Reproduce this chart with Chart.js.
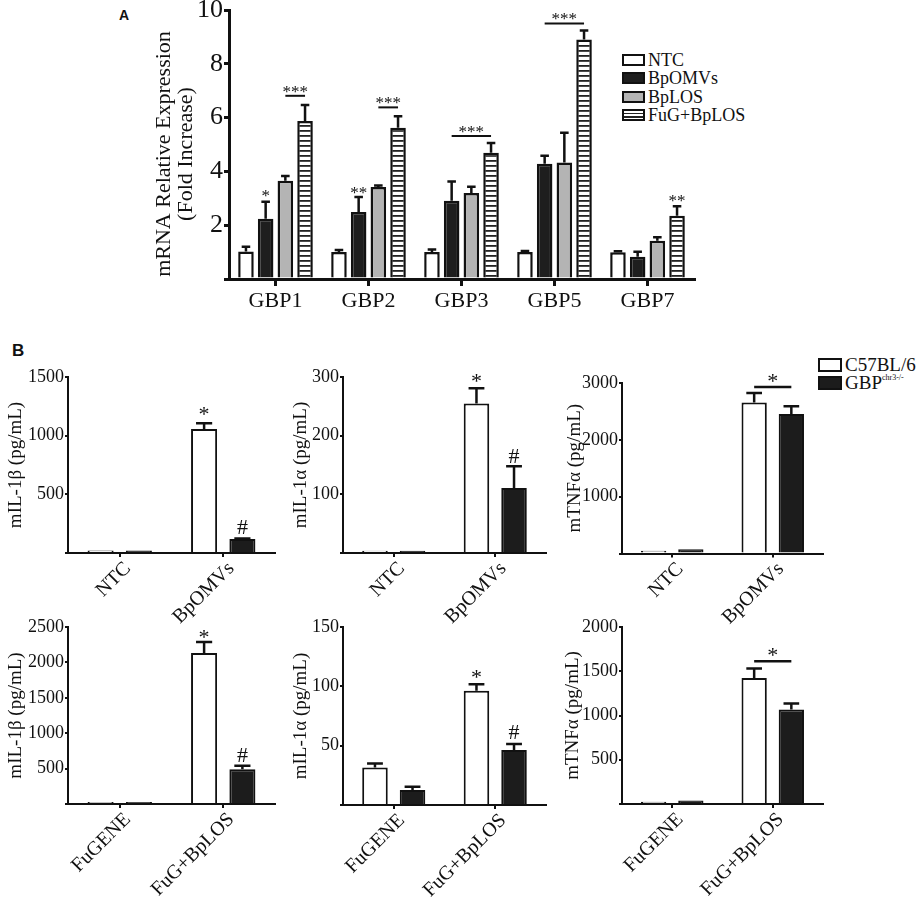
<!DOCTYPE html>
<html>
<head>
<meta charset="utf-8">
<script src="https://cdn.jsdelivr.net/npm/chart.js@4.4.1/dist/chart.umd.min.js"></script>
<style>
  html, body { margin: 0; padding: 0; background: #fff; }
  #fig { position: relative; width: 920px; height: 897px; overflow: hidden;
         font-family: "Liberation Serif", "Times New Roman", serif; color: #111; }
  #fig canvas { position: absolute; }
  .panel { position: absolute; font-family: "Liberation Sans", Arial, sans-serif; font-weight: bold; line-height: 1; }
  .legend { position: absolute; }
  .legend .row { position: absolute; left: 0; white-space: nowrap; }
  .sw { position: absolute; left: 0; top: 0; box-sizing: border-box; border: 2px solid #111; }
  .lt { position: absolute; line-height: 1; white-space: nowrap; }
  .lt sup { font-size: 8px; vertical-align: 9px; }
</style>
</head>
<body>
<div id="fig">
  <div class="panel" style="left:119px; top:8px; font-size:14px;">A</div>
  <div class="panel" style="left:12px; top:342px; font-size:17px;">B</div>

  <div class="legend" style="left:622px; top:54px; font-size:18px;">
    <div class="row" style="top:0px"><div class="sw" style="width:23px;height:12px;background:#fff"></div><div class="lt" style="left:26px;top:-3px">NTC</div></div>
    <div class="row" style="top:18.3px"><div class="sw" style="width:23px;height:12px;background:#1e1e1e"></div><div class="lt" style="left:26px;top:-3px">BpOMVs</div></div>
    <div class="row" style="top:36.6px"><div class="sw" style="width:23px;height:12px;background:#b4b4b4"></div><div class="lt" style="left:26px;top:-3px">BpLOS</div></div>
    <div class="row" style="top:54.9px"><div class="sw" style="width:23px;height:12px;background:repeating-linear-gradient(to bottom,#fff 0 2px,#222 2px 3.5px)"></div><div class="lt" style="left:26px;top:-3px">FuG+BpLOS</div></div>
  </div>

  <div class="legend" style="left:818px; top:358px; font-size:19px;">
    <div class="row" style="top:0px"><div class="sw" style="width:24px;height:14px;background:#fff"></div><div class="lt" style="left:27px;top:-3px">C57BL/6</div></div>
    <div class="row" style="top:18px"><div class="sw" style="width:24px;height:14px;background:#1c1c1c"></div><div class="lt" style="left:27px;top:-3px">GBP<sup>chr3-/-</sup></div></div>
  </div>
</div>

<script>
// ---------- Panel A: GBP mRNA fold increase ----------
const genes      = ['GBP1', 'GBP2', 'GBP3', 'GBP5', 'GBP7'];
const ntcMean    = [1.02, 1.00, 1.00, 1.00, 0.99];
const ntcSem     = [0.18, 0.08, 0.10, 0.04, 0.04];
const omvMean    = [2.24, 2.49, 2.91, 4.28, 0.83];
const omvSem     = [0.63, 0.56, 0.71, 0.30, 0.18];
const losMean    = [3.65, 3.42, 3.20, 4.33, 1.42];
const losSem     = [0.18, 0.06, 0.23, 1.11, 0.13];
const fugMean    = [5.87, 5.62, 4.69, 8.90, 2.35];
const fugSem     = [0.60, 0.43, 0.37, 0.34, 0.35];

// ---------- Panel B: cytokines (pg/mL) ----------
const groupsOmv  = ['NTC', 'BpOMVs'];
const groupsLos  = ['FuGENE', 'FuG+BpLOS'];

const il1bOmvWt  = [22, 1057];   const il1bOmvWtErr = [0, 48];
const il1bOmvKo  = [22, 119];    const il1bOmvKoErr = [0, 4];
const il1aOmvWt  = [4, 255];     const il1aOmvWtErr = [0, 26];
const il1aOmvKo  = [4, 111];     const il1aOmvKoErr = [0, 37];
const tnfOmvWt   = [50, 2655];   const tnfOmvWtErr  = [0, 170];
const tnfOmvKo   = [75, 2456];   const tnfOmvKoErr  = [0, 135];

const il1bLosWt  = [28, 2134];   const il1bLosWtErr = [0, 155];
const il1bLosKo  = [28, 492];    const il1bLosKoErr = [0, 47];
const il1aLosWt  = [31.5, 96.3]; const il1aLosWtErr = [3.5, 5.4];
const il1aLosKo  = [12.6, 46.3]; const il1aLosKoErr = [2.8, 5.1];
const tnfLosWt   = [25, 1425];   const tnfLosWtErr  = [0, 105];
const tnfLosKo   = [40, 1069];   const tnfLosKoErr  = [0, 67];

const SERIF = '"Liberation Serif", "Times New Roman", serif';
const INK = '#111';

// error bars, significance marks and (optionally) a free-placed axis title
const errSig = {
  id: 'errSig',
  afterDatasetsDraw(chart, args, o) {
    const ctx = chart.ctx, y = chart.scales.y;
    const starShift = t => t.indexOf('*') >= 0 ? o.size * 0.15 : 0;
    ctx.save();
    ctx.strokeStyle = INK;
    ctx.fillStyle = INK;
    chart.data.datasets.forEach((ds, di) => {
      if (!ds.err) return;
      chart.getDatasetMeta(di).data.forEach((bar, i) => {
        const e = ds.err[i];
        if (!e) return;
        const top = y.getPixelForValue(ds.data[i] + e);
        const half = bar.width * o.cap / 2;
        ctx.lineWidth = o.errWidth;
        ctx.beginPath();
        ctx.moveTo(bar.x, bar.y);
        ctx.lineTo(bar.x, top);
        ctx.moveTo(bar.x - half, top);
        ctx.lineTo(bar.x + half, top);
        ctx.stroke();
      });
    });
    ctx.font = o.size + 'px ' + SERIF;
    ctx.textAlign = 'center';
    ctx.textBaseline = 'middle';
    (o.marks || []).forEach(m => {
      const bar = chart.getDatasetMeta(m.ds).data[m.i];
      ctx.fillText(m.t, bar.x, y.getPixelForValue(m.y) + starShift(m.t));
    });
    (o.lines || []).forEach(l => {
      const a = chart.getDatasetMeta(l.a).data[l.i];
      const b = chart.getDatasetMeta(l.b).data[l.i];
      const py = y.getPixelForValue(l.y);
      ctx.lineWidth = o.lineWidth;
      ctx.beginPath();
      ctx.moveTo(a.x, py);
      ctx.lineTo(b.x, py);
      ctx.stroke();
      ctx.fillText(l.t, (a.x + b.x) / 2, py - o.gap + starShift(l.t));
    });
    if (o.title) {
      const t = o.title;
      ctx.font = t.size + 'px ' + SERIF;
      t.lines.forEach((line, k) => {
        ctx.save();
        ctx.translate(t.x + k * t.step, t.y);
        ctx.rotate(-Math.PI / 2);
        ctx.fillText(line, 0, 0);
        ctx.restore();
      });
    }
    ctx.restore();
  }
};

function stripes() {
  const c = document.createElement('canvas');
  c.width = 4; c.height = 5;
  const g = c.getContext('2d');
  g.fillStyle = '#fff'; g.fillRect(0, 0, 4, 5);
  g.fillStyle = '#222'; g.fillRect(0, 0, 4, 1.8);
  return g.createPattern(c, 'repeat');
}

// box = canvas rect on the page, area = wanted chart area on the page
function makeChart(o) {
  const cv = document.createElement('canvas');
  cv.width = o.box.w; cv.height = o.box.h;
  cv.style.left = o.box.left + 'px';
  cv.style.top = o.box.top + 'px';
  document.getElementById('fig').appendChild(cv);

  const yW = o.area.left - o.box.left;
  const xH = o.box.top + o.box.h - o.area.bottom;
  const padTop = o.area.top - o.box.top;
  const padRight = o.box.left + o.box.w - o.area.right;
  const titleLH = o.titleSize * o.titleLine;
  const titlePad = o.titleX - o.box.left - titleLH / 2;

  const sig = Object.assign({}, o.sig);
  if (o.titleAt) {
    sig.title = { lines: o.title, size: o.titleSize, step: titleLH,
                  x: o.titleAt.x - o.box.left, y: o.titleAt.y - o.box.top };
  }

  return new Chart(cv, {
    type: 'bar',
    data: {
      labels: o.labels,
      datasets: o.series.map(s => ({
        label: s.label,
        data: s.data,
        err: s.err,
        backgroundColor: s.fill,
        borderColor: INK,
        borderWidth: o.barBorder,
        categoryPercentage: o.catPct,
        barPercentage: o.barPct,
      })),
    },
    options: {
      responsive: false,
      animation: false,
      devicePixelRatio: 1,
      layout: { padding: { top: padTop, right: padRight, bottom: 0, left: 0 } },
      plugins: {
        legend: { display: false },
        tooltip: { enabled: false },
        errSig: sig,
      },
      scales: {
        x: {
          grid: { offset: false, drawOnChartArea: false, drawTicks: true,
                  tickLength: o.xTick, lineWidth: o.tickWidth, color: INK },
          border: { color: INK, width: o.axisWidth },
          ticks: { color: INK, font: { family: SERIF, size: o.xFont }, padding: o.xPad,
                   labelOffset: o.xShift || 0,
                   minRotation: o.rot, maxRotation: o.rot, autoSkip: false },
          afterFit: s => { s.height = xH; s.paddingLeft = 0; s.paddingRight = 0; },
        },
        y: {
          min: 0, max: o.yMax,
          grid: { drawOnChartArea: false, drawTicks: true,
                  tickLength: o.yTick, lineWidth: o.tickWidth, color: INK },
          border: { color: INK, width: o.axisWidth },
          ticks: { stepSize: o.step, color: INK, padding: o.yPad,
                   font: { family: SERIF, size: o.yFont },
                   callback: v => (v === 0 ? '' : v) },
          title: { display: !o.titleAt, text: o.title, color: INK,
                   font: { family: SERIF, size: o.titleSize, lineHeight: o.titleLine },
                   padding: { top: titlePad, bottom: 0 } },
          afterFit: s => { s.width = yW; s.paddingTop = 0; s.paddingBottom = 0; },
        },
      },
    },
    plugins: [errSig],
  });
}

// ---------- Panel A ----------
makeChart({
  box: { left: 135, top: 0, w: 575, h: 330 },
  area: { left: 229, top: 10, right: 694, bottom: 279 },
  labels: genes,
  series: [
    { label: 'NTC',       data: ntcMean, err: ntcSem, fill: '#fff' },
    { label: 'BpOMVs',    data: omvMean, err: omvSem, fill: '#1e1e1e' },
    { label: 'BpLOS',     data: losMean, err: losSem, fill: '#b4b4b4' },
    { label: 'FuG+BpLOS', data: fugMean, err: fugSem, fill: stripes() },
  ],
  yMax: 10, step: 2,
  title: ['mRNA Relative Expression', '(Fold Increase)'],
  titleAt: { x: 164, y: 154 },
  titleX: 164, titleSize: 22, titleLine: 1.0,
  catPct: 0.847, barPct: 0.79, barBorder: 2.5,
  axisWidth: 3, tickWidth: 3, xTick: 7, yTick: 5, xPad: 2, yPad: 1,
  xFont: 22, yFont: 26, rot: 0,
  sig: {
    size: 17, cap: 0.55, errWidth: 2.5, lineWidth: 2, gap: 6,
    marks: [
      { ds: 1, i: 0, t: '*',  y: 3.16 },
      { ds: 1, i: 1, t: '**', y: 3.28 },
      { ds: 3, i: 4, t: '**', y: 2.97 },
    ],
    lines: [
      { i: 0, a: 2, b: 3, y: 6.81, t: '***' },
      { i: 1, a: 2, b: 3, y: 6.38, t: '***' },
      { i: 2, a: 1, b: 3, y: 5.32, t: '***' },
      { i: 3, a: 1, b: 3, y: 9.50, t: '***' },
    ],
  },
});

// ---------- Panel B ----------
function panelB(box, area, labels, wt, wtErr, ko, koErr, yMax, step, title, titleX, sig) {
  return makeChart({
    box, area, labels,
    series: [
      { label: 'C57BL/6',    data: wt, err: wtErr, fill: '#fff' },
      { label: 'GBPchr3-/-', data: ko, err: koErr, fill: '#1c1c1c' },
    ],
    yMax, step, title, titleX, titleSize: 19, titleLine: 1.2,
    catPct: 0.74, barPct: 0.68, barBorder: 2,
    axisWidth: 2, tickWidth: 2, xTick: 4, yTick: 3, xPad: 0, yPad: 1,
    xFont: 20, yFont: 18, rot: 45, xShift: 8,
    sig: Object.assign({ size: 22, cap: 0.62, errWidth: 2.5, lineWidth: 2.5, gap: 8.4 }, sig),
  });
}

panelB({ left: 0, top: 340, w: 290, h: 300 }, { left: 68, top: 377, right: 275, bottom: 553 },
  groupsOmv, il1bOmvWt, il1bOmvWtErr, il1bOmvKo, il1bOmvKoErr, 1500, 500, 'mIL-1β (pg/mL)', 16,
  { marks: [{ ds: 0, i: 1, t: '*', y: 1202 }, { ds: 1, i: 1, t: '#', y: 213 }] });

panelB({ left: 280, top: 340, w: 290, h: 300 }, { left: 343, top: 377, right: 546, bottom: 553 },
  groupsOmv, il1aOmvWt, il1aOmvWtErr, il1aOmvKo, il1aOmvKoErr, 300, 100, 'mIL-1α (pg/mL)', 301,
  { marks: [{ ds: 0, i: 1, t: '*', y: 297 }, { ds: 1, i: 1, t: '#', y: 164 }] });

panelB({ left: 555, top: 340, w: 280, h: 300 }, { left: 622, top: 383, right: 823, bottom: 553.5 },
  groupsOmv, tnfOmvWt, tnfOmvWtErr, tnfOmvKo, tnfOmvKoErr, 3000, 1000, 'mTNFα (pg/mL)', 575,
  { lines: [{ i: 1, a: 0, b: 1, y: 2930, t: '*' }] });

panelB({ left: 0, top: 610, w: 290, h: 287 }, { left: 68, top: 627, right: 275, bottom: 804 },
  groupsLos, il1bLosWt, il1bLosWtErr, il1bLosKo, il1bLosKoErr, 2500, 500, 'mIL-1β (pg/mL)', 16,
  { marks: [{ ds: 0, i: 1, t: '*', y: 2383 }, { ds: 1, i: 1, t: '#', y: 671 }] });

panelB({ left: 280, top: 610, w: 290, h: 287 }, { left: 343, top: 627, right: 546, bottom: 805 },
  groupsLos, il1aLosWt, il1aLosWtErr, il1aLosKo, il1aLosKoErr, 150, 50, 'mIL-1α (pg/mL)', 301,
  { marks: [{ ds: 0, i: 1, t: '*', y: 109.6 }, { ds: 1, i: 1, t: '#', y: 60.4 }] });

panelB({ left: 555, top: 610, w: 280, h: 287 }, { left: 622, top: 627, right: 823, bottom: 804 },
  groupsLos, tnfLosWt, tnfLosWtErr, tnfLosKo, tnfLosKoErr, 2000, 500, 'mTNFα (pg/mL)', 573,
  { lines: [{ i: 1, a: 0, b: 1, y: 1613, t: '*' }] });
</script>
</body>
</html>
